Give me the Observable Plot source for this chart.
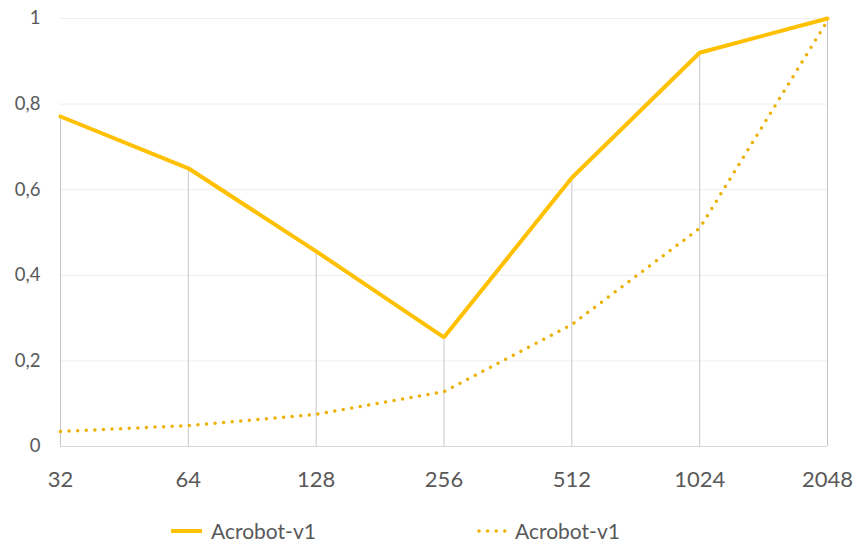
<!DOCTYPE html>
<html><head><meta charset="utf-8">
<script src="https://cdn.jsdelivr.net/npm/d3@7"></script>
<script src="https://cdn.jsdelivr.net/npm/@observablehq/plot@0.6"></script>
<style>
body{margin:0;background:#fff;font-family:Lato,"Open Sans",sans-serif;}
#wrap{position:relative;width:856px;height:545px;}
#legend{position:absolute;left:0;top:505px;width:856px;height:40px;}
.li{position:absolute;top:14px;display:flex;align-items:center;font-size:21px;color:#595959;line-height:24px;}
.li svg{display:block;}
</style></head><body>
<div id="wrap"><div id="chart"></div><div id="legend"></div></div>
<script>
const categories = ["32","64","128","256","512","1024","2048"];
const solidValues = [0.771, 0.65, 0.456, 0.255, 0.628, 0.92, 1.0];
const dottedValues = [0.035, 0.049, 0.075, 0.128, 0.285, 0.51, 0.995];
const yTicks = [0, 0.2, 0.4, 0.6, 0.8, 1];
const seriesName = "Acrobot-v1";

const solid = categories.map((c,i)=>({x:c,y:solidValues[i]}));
const dotted = categories.map((c,i)=>({x:c,y:dottedValues[i]}));
const fmt = d => (d===0||d===1) ? String(d) : d.toFixed(1).replace(".", ",");

const chart = Plot.plot({
  width: 856, height: 505,
  marginLeft: 60, marginRight: 29, marginTop: 18, marginBottom: 59,
  style: {fontFamily: "Lato, 'Open Sans', sans-serif", background: "#fff"},
  x: {type: "point", domain: categories, padding: 0, round: false, label: null},
  y: {domain: [0, 1], label: null},
  marks: [
    Plot.ruleY(yTicks.filter(d=>d>0), {stroke: "#eeeeee", strokeWidth: 1}),
    Plot.ruleX(solid, {x: "x", y1: 0, y2: "y", stroke: "#c6c6c6", strokeWidth: 1}),
    Plot.ruleY([0], {stroke: "#d9d9d9", strokeWidth: 1}),
    Plot.axisY({ticks: yTicks, tickFormat: fmt, tickSize: 0, tickPadding: 20, fontSize: 18.5, fill: "#595959", label: null}),
    Plot.axisX({tickSize: 0, tickPadding: 25, fontSize: 22, fill: "#595959", label: null}),
    Plot.line(dotted, {x: "x", y: "y", stroke: "#EBB000", strokeWidth: 3.5, strokeDasharray: "0 8.6", strokeLinecap: "round"}),
    Plot.line(solid, {x: "x", y: "y", stroke: "#FFC000", strokeWidth: 4, strokeLinejoin: "miter"})
  ]
});
document.getElementById("chart").appendChild(chart);

const legend = document.getElementById("legend");
const items = [
  {left: 170, gap: 8, svg: `<svg width="33" height="10"><line x1="1" y1="5" x2="32" y2="5" stroke="#FFC000" stroke-width="4"/></svg>`},
  {left: 477, gap: 8, svg: `<svg width="30" height="10"><line x1="2" y1="5" x2="28" y2="5" stroke="#EBB000" stroke-width="3.5" stroke-dasharray="0 8.6" stroke-linecap="round"/></svg>`}
];
items.forEach(it => {
  const d = document.createElement("div");
  d.className = "li";
  d.style.left = it.left + "px";
  d.innerHTML = it.svg + `<span style="margin-left:${it.gap}px">${seriesName}</span>`;
  legend.appendChild(d);
});
</script>
</body></html>
